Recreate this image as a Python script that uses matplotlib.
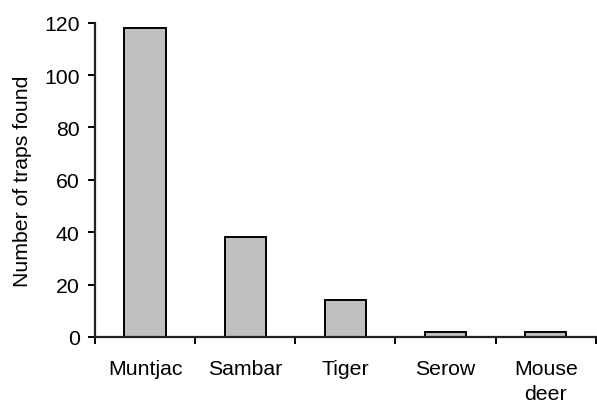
import matplotlib
matplotlib.use("Agg")
import matplotlib.pyplot as plt
import numpy as np

# data
species = ["Muntjac", "Sambar", "Tiger", "Serow", "Mouse\ndeer"]
traps = [118, 38, 14, 2, 2]
yticks = [0, 20, 40, 60, 80, 100, 120]

plt.rcParams['font.family'] = ['Liberation Sans', 'DejaVu Sans']
fs = 15.3

fig = plt.figure(figsize=(5.97, 4.06), dpi=100)
ax = fig.add_axes([0.159, 0.1675, 0.839, 0.774])

x = np.arange(len(species))
ax.bar(x, traps, width=0.41, color="#c0c0c0", edgecolor="black", linewidth=1.4)

ax.set_xlim(-0.5, len(species) - 0.5)
ax.set_ylim(0, 120)
ax.set_yticks(yticks)
ax.set_yticklabels([str(v) for v in yticks], fontsize=fs)

# category labels centred, ticks on the boundaries
ax.set_xticks(x)
ax.set_xticklabels(species, fontsize=fs, linespacing=1.4)
ax.tick_params(axis='x', which='major', length=0, pad=15.5)
ax.set_xticks(np.arange(len(species) + 1) - 0.5, minor=True)
ax.tick_params(axis='x', which='minor', length=5, width=1.4, direction='out')
ax.tick_params(axis='y', length=5, width=1.4, direction='out', pad=6)

ax.set_ylabel("Number of traps found", fontsize=fs, labelpad=9)

for s in ["top", "right"]:
    ax.spines[s].set_visible(False)
for s in ["left", "bottom"]:
    ax.spines[s].set_linewidth(1.6)
    ax.spines[s].set_color("#222222")

fig.savefig("out.png", dpi=100)
